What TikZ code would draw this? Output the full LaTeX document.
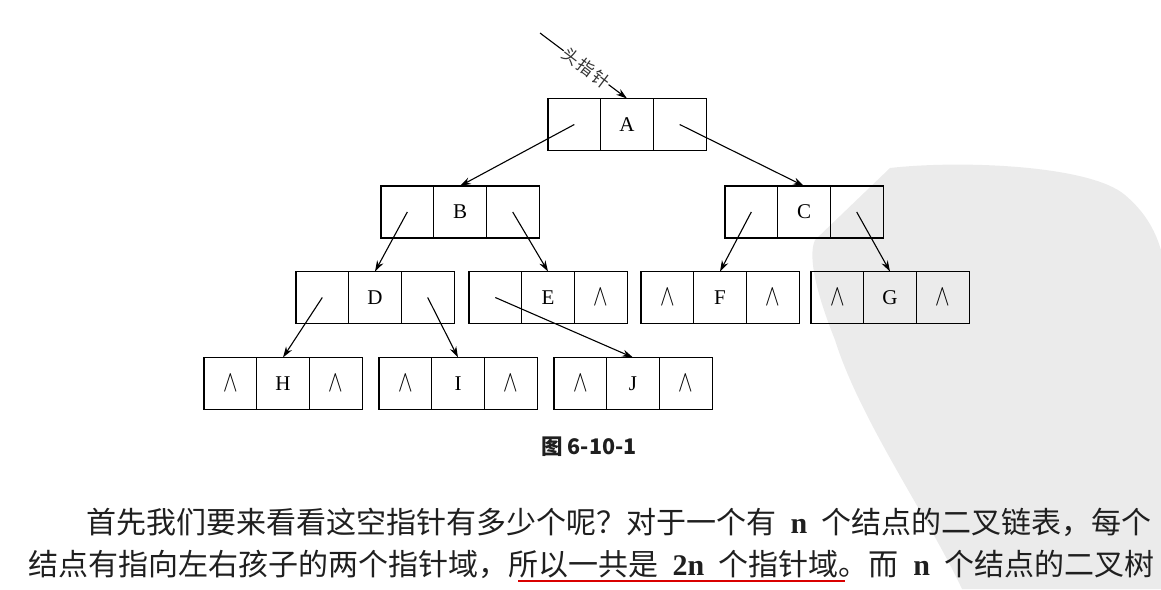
\documentclass[tikz,border=0pt]{standalone}
\usepackage{fontspec}
\setmainfont{Liberation Serif}
\newfontfamily\cjk{Noto Sans CJK SC}
\usetikzlibrary{arrows.meta}
\newcommand\nul{\scalebox{1.05}[1.45]{$\wedge$}}
\newcommand\nn[1]{\hspace{14.5pt}{\rmfamily\bfseries #1}\hspace{14.5pt}}
\newcommand\lnode[6]{%
  \node[cell] (#1l) at (#2-52.7,#3) {#4};
  \node[cell] (#1m) at (#2,#3) {#5};
  \node[cell] (#1r) at (#2+52.7,#3) {#6};}
\begin{document}
\begin{tikzpicture}[x=1pt,y=-1pt,
  cell/.style={draw,line width=1.1pt,minimum width=52.7pt,minimum height=52pt,
    inner sep=0pt,outer sep=0pt,font=\fontsize{21}{21}\selectfont},
  ptr/.style={line width=1.1pt,-{Stealth[length=11pt,width=7pt]}},
  wm/.style={fill=black!8},
  body/.style={anchor=west,inner sep=0pt,text=black!88,font=\cjk\fontsize{30}{30}\selectfont},
]
\useasboundingbox (0,0) rectangle (1161,589);
% faint watermark blob
\fill[wm] (890,168) .. controls (960,160) and (1090,165) .. (1125,195)
  .. controls (1145,212) and (1155,230) .. (1161,250)
  -- (1161,589) -- (962,589) .. controls (930,520) and (860,420) .. (835,340)
  .. controls (815,290) and (808,255) .. (815,240) -- cycle;
% nodes
\lnode{A}{627}{124.5}{}{A}{}
\lnode{B}{460}{212}{}{B}{}
\lnode{C}{804}{212}{}{C}{}
\lnode{D}{375}{297.5}{}{D}{}
\lnode{E}{548}{297.5}{}{E}{\nul}
\lnode{F}{720}{297.5}{\nul}{F}{\nul}
\lnode{G}{890}{297.5}{\nul}{G}{\nul}
\lnode{H}{283}{383.5}{\nul}{H}{\nul}
\lnode{I}{458}{383.5}{\nul}{I}{\nul}
\lnode{J}{633}{383.5}{\nul}{J}{\nul}
% head pointer
\coordinate (hp) at (540,33);
\draw[ptr] (hp) -- node[sloped,pos=0.53,fill=white,inner sep=0.5pt,text=black!80,
  font=\cjk\fontsize{17}{17}\selectfont] (hpl) {头\hspace{2pt}指\hspace{2pt}针} (Am.north);
% child pointers
\draw[ptr] (Al.center) -- (Bm.north);
\draw[ptr] (Ar.center) -- (Cm.north);
\draw[ptr] (Bl.center) -- (Dm.north);
\draw[ptr] (Br.center) -- (Em.north);
\draw[ptr] (Cl.center) -- (Fm.north);
\draw[ptr] (Cr.center) -- (Gm.north);
\draw[ptr] (Dl.center) -- (Hm.north);
\draw[ptr] (Dr.center) -- (Im.north);
\draw[ptr] (El.center) -- (Jm.north);
% caption
\node[font=\cjk\bfseries\fontsize{21.5}{21.5}\selectfont,text=black!88] (cap) at (589,447) {图 6-10-1};
% body text
\node[body] (l1) at (86,522) {首先我们要来看看这空指针有多少个呢？对于一个有\nn{n}个结点的二叉链表，每个};
\node[body] (l2) at (28,564) {结点有指向左右孩子的两个指针域，所以一共是\nn{2n}个指针域。而\nn{n}个结点的二叉树};
\draw[line width=2.6pt,red!85!black] (518,581) -- (845,581);
\end{tikzpicture}
\end{document}
